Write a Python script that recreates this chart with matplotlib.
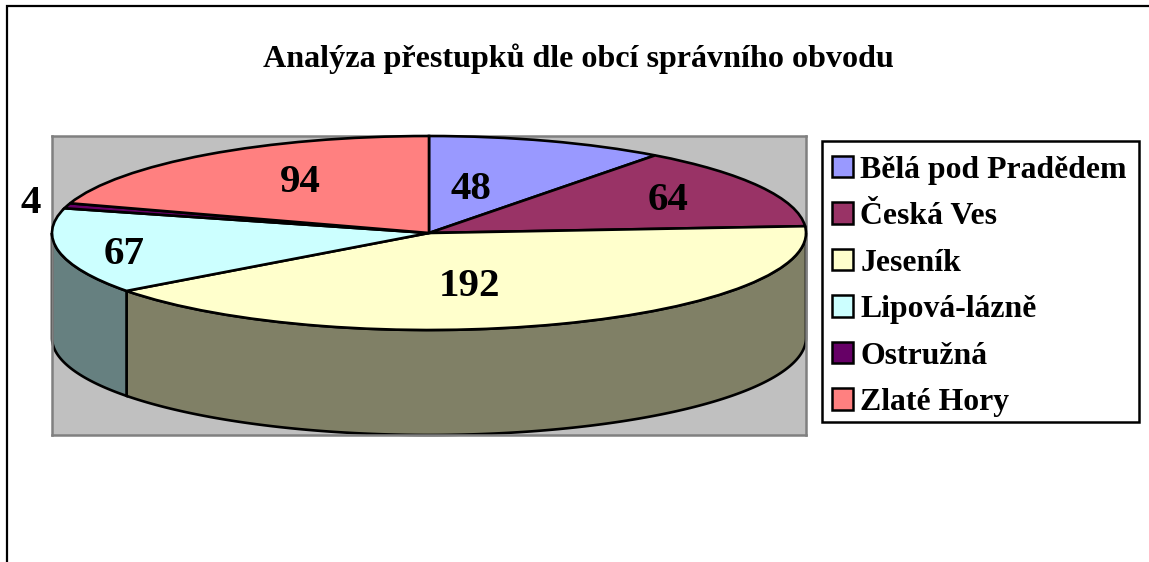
import numpy as np
import matplotlib
matplotlib.use("Agg")
import matplotlib.pyplot as plt
from matplotlib.lines import Line2D
from matplotlib.patches import Rectangle
from matplotlib.colors import to_rgb

plt.rcParams['font.family'] = ['Liberation Serif', 'DejaVu Serif']
plt.rcParams['font.weight'] = 'bold'

W, H = 1149, 562

categories = ['Bělá pod Pradědem', 'Česká Ves', 'Jeseník', 'Lipová-lázně', 'Ostružná', 'Zlaté Hory']
values = [48, 64, 192, 67, 4, 94]
colors = ['#9999FF', '#993366', '#FFFFCC', '#CCFFFF', '#660066', '#FF8080']
title = 'Analýza přestupků dle obcí správního obvodu'


def px(x, y):
    # pixel position measured from top left -> figure fraction
    return x / W, 1 - y / H


fig = plt.figure(figsize=(W / 100, H / 100), dpi=100, facecolor='white')

# outer chart border, only left and top show up
fig.add_artist(Line2D([7 / W, 7 / W, 1], [0, 1 - 6 / H, 1 - 6 / H], transform=fig.transFigure,
                      color='black', lw=1.6, solid_joinstyle='miter'))

fig.text(*px(578.5, 59), title, ha='center', va='center', fontsize=23.1, fontweight='bold')

# plot area
left, right, top, bottom = 52, 806, 136, 434.5
ax = fig.add_axes([left / W, 1 - bottom / H, (right - left) / W, (bottom - top) / H])

ry = 97.0
depth = 105 / ry
wedges, _ = ax.pie(values, colors=colors, startangle=90, counterclock=False, radius=1,
                   frame=True, wedgeprops={'edgecolor': 'black', 'linewidth': 1.9, 'zorder': 3})
ax.set_aspect('auto')
ax.set_xlim(-1, 1)
ax.set_ylim(-1 - (bottom - top - 2 * ry) / ry, 1)
ax.set_xticks([])
ax.set_yticks([])
ax.set_facecolor('#C0C0C0')
for s in ax.spines.values():
    s.set_color('#808080')
    s.set_linewidth(1.8)

# side wall, front half of the pie only
cum = np.concatenate([[0], np.cumsum(values)]) / sum(values) * 2 * np.pi
for i in range(len(values)):
    a0 = max(cum[i], np.pi / 2)
    a1 = min(cum[i + 1], 3 * np.pi / 2)
    if a1 <= a0:
        continue
    t = np.linspace(a0, a1, 200)
    x, y = np.sin(t), np.cos(t)
    dark = tuple(v * 0.5 for v in to_rgb(colors[i]))
    ax.fill(np.r_[x, x[::-1]], np.r_[y, y[::-1] - depth], facecolor=dark, edgecolor='black',
            linewidth=1.9, zorder=2, clip_on=False)

# value labels
label_pos = [(471, 189), (668, 200), (469, 287), (124, 254), (31, 204), (300, 183)]
for v, (lx, ly) in zip(values, label_pos):
    fig.text(*px(lx, ly), str(v), ha='center', va='center', fontsize=29.5, fontweight='bold', zorder=5)

# legend box drawn on its own, the entries sit a bit low in it
fig.add_artist(Rectangle(px(822, 422), 317 / W, 281 / H, transform=fig.transFigure,
                         facecolor='white', edgecolor='black', linewidth=1.8))
leg = fig.legend(wedges, categories, loc='upper left', bbox_to_anchor=px(822, 146),
                 bbox_transform=fig.transFigure, borderaxespad=0, frameon=False,
                 prop={'family': 'Liberation Serif', 'weight': 'bold', 'size': 22.9},
                 handlelength=0.66, handleheight=0.66, handletextpad=0.25, labelspacing=0.55,
                 borderpad=0.3)
for h in leg.get_patches():
    h.set_linewidth(1.8)

plt.savefig('out.png', dpi=100)
